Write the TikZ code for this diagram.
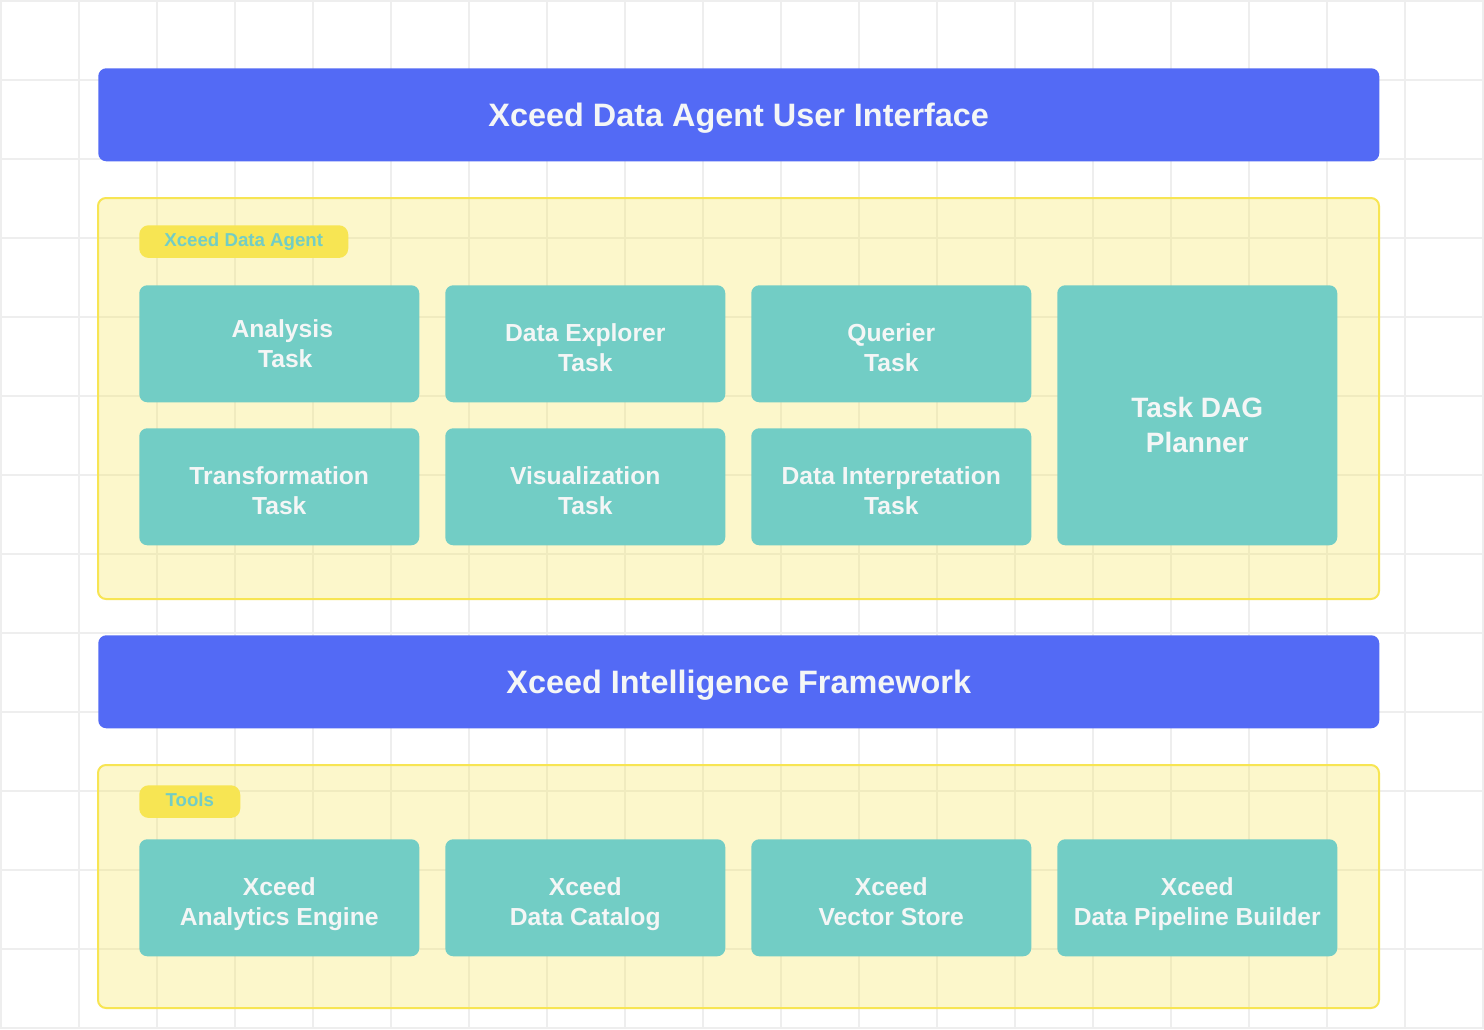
\documentclass[tikz,border=0pt]{standalone}
\usepackage{fontspec}
\setmainfont{Liberation Sans}
\definecolor{gridc}{HTML}{EEEEEE}
\definecolor{barblue}{HTML}{536AF5}
\definecolor{ylw}{HTML}{F7E553}
\definecolor{teal}{HTML}{72CDC5}
\definecolor{wtxt}{HTML}{F4F6F6}
\newcommand{\xsa}{\rule{0pt}{24.1pt}}
\newcommand{\xsb}{\rule{0pt}{18.1pt}}
\newcommand{\xse}{\rule[-4.6pt]{0pt}{4.6pt}}
\newcommand{\xsd}{\rule{0pt}{35.15pt}}
\newcommand{\xsf}{\rule[-5.25pt]{0pt}{5.25pt}}
\newcommand{\xst}{\rule[-6pt]{0pt}{29.6pt}}
\begin{document}
\begin{tikzpicture}[x=0.75pt,y=-0.75pt,
  bar/.style={fill=barblue,rounded corners=6pt,minimum width=960.75pt,minimum height=69.75pt,inner sep=0pt,anchor=north west,text=wtxt,font=\fontsize{24.3}{29}\selectfont\bfseries},
  container/.style={draw=ylw,line width=1.5pt,fill=ylw,fill opacity=0.3,draw opacity=1,rounded corners=6pt},
  tag/.style={fill=ylw,rounded corners=7pt,inner sep=0pt,minimum height=24.5pt,anchor=north west,text=teal,font=\fontsize{14}{17}\selectfont\bfseries},
  tbox/.style={fill=teal,rounded corners=6pt,minimum width=210pt,minimum height=87.75pt,inner sep=0pt,anchor=north west,text=wtxt,align=center,font=\fontsize{18.5}{22.5}\selectfont\bfseries}]
\useasboundingbox (0,0) rectangle (1484,1029);
\fill[white] (0,0) rectangle (1484,1029);
% grid
\foreach \i in {0,...,19} {\draw[gridc,line width=1.5pt] ({1+78*\i},0) -- ({1+78*\i},1029);}
\foreach \j in {0,...,13} {\draw[gridc,line width=1.5pt] (0,{1+79*\j}) -- (1484,{1+79*\j});}
% top bar
\node[bar] (ui) at (98,68) {\xst Xceed Data Agent User Interface};
% agent container
\draw[container] (98,198) rectangle (1379,599);
\node[tag,minimum width=156.75pt] (agenttag) at (139,225) {\strut Xceed Data Agent};
\node[tbox] (analysis) at (139,285) {\xsb\hspace*{4.5pt}Analysis\\\hspace*{9pt}Task\xse};
\node[tbox] (explorer) at (445,285) {\xsa Data Explorer\\Task\xse};
\node[tbox] (querier) at (751,285) {\xsa Querier\\Task\xse};
\node[tbox,minimum height=195pt,font=\fontsize{21}{26}\selectfont\bfseries] (dag) at (1057,285) {\xsd Task DAG\\Planner\xsf};
\node[tbox] (transform) at (139,428) {\xsa Transformation\\Task\xse};
\node[tbox] (visual) at (445,428) {\xsa Visualization\\Task\xse};
\node[tbox] (interp) at (751,428) {\xsa Data Interpretation\\Task\xse};
% framework bar
\node[bar] (fw) at (98,635) {\xst Xceed Intelligence Framework};
% tools container
\draw[container] (98,765) rectangle (1379,1008);
\node[tag,minimum width=75.75pt] (toolstag) at (139,785) {\strut Tools};
\node[tbox] (engine) at (139,839) {\xsa Xceed\\Analytics Engine\xse};
\node[tbox] (catalog) at (445,839) {\xsa Xceed\\Data Catalog\xse};
\node[tbox] (vector) at (751,839) {\xsa Xceed\\Vector Store\xse};
\node[tbox] (pipeline) at (1057,839) {\xsa Xceed\\Data Pipeline Builder\xse};
\end{tikzpicture}
\end{document}
